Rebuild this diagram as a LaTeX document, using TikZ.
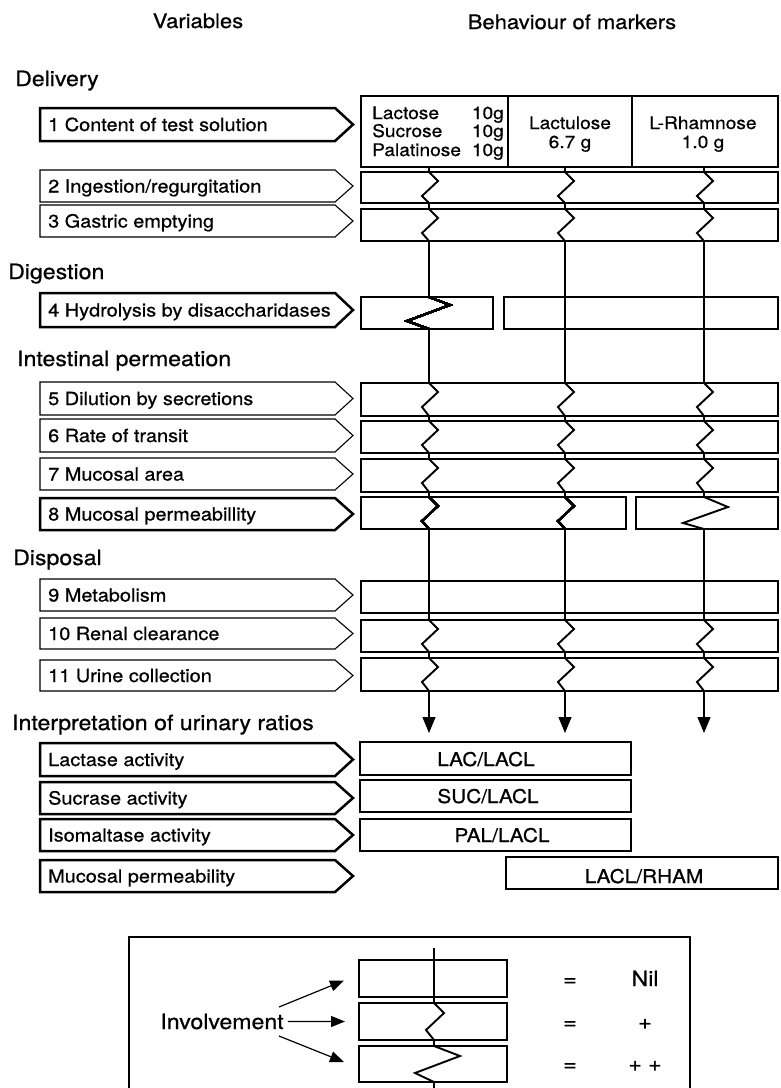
\documentclass[tikz,border=0pt]{standalone}
\usepackage{fontspec}
\setmainfont{TeX Gyre Heros}[FakeStretch=1.1,FakeBold=0.7]
\usetikzlibrary{arrows.meta,calc}
\newcommand\RB[5]{\node[rbox, minimum width={(#4-#2)*1pt}, minimum height={(#5-#3)*1pt}] (#1) at (#2,#3) {};}
\newcommand\LA[5]{%
  \node[lshape, minimum height={(#3-#2)*1pt}] (#1) at (40,#2) {};
  \draw[#5] (#1.north west) -- (#1.north east) -- ([xshift=18pt]#1.east) -- (#1.south east) -- (#1.south west) -- cycle;
  \node[lbl] (#1t) at ([xshift=8pt,yshift=-6.5pt]#1.west) {#4};}
\newcommand\ZS[2]{\draw[zz] (#1.north -| #2) -- ++(9,9) -- ++(-16,15) -- (#1.south -| #2);}
\newcommand\ZN[2]{\draw[vln] (#1.north -| #2) -- (#1.south -| #2);}
\begin{document}
\begin{tikzpicture}[x=1pt,y=-1pt,
  rbox/.style={draw, line width=1.1pt, inner sep=0pt, outer sep=0pt, anchor=north west},
  lshape/.style={inner sep=0pt, outer sep=0pt, anchor=north west, minimum width=295pt},
  thn/.style={line width=1.1pt, line join=miter},
  thk/.style={line width=2.5pt, line join=miter},
  zz/.style={line width=1.9pt, line join=miter},
  vln/.style={line width=1.2pt},
  arr/.style={line width=1.2pt, -{Triangle[length=16pt,width=13pt]}},
  larr/.style={line width=1.2pt, -{Triangle[length=14pt,width=11pt]}},
  lbl/.style={font=\fontsize{18.1}{20}\selectfont, anchor=base west, inner sep=0pt},
  sec/.style={font=\fontsize{21}{24}\selectfont, anchor=base west, inner sep=0pt},
  hdr/.style={font=\fontsize{20}{24}\selectfont, anchor=base, inner sep=0pt},
  cell/.style={font=\fontsize{17.4}{20}\selectfont, inner sep=0pt},
  rat/.style={font=\fontsize{18.9}{22}\selectfont, anchor=base, inner sep=0pt},
  leg/.style={font=\fontsize{21}{24}\selectfont, anchor=base, inner sep=0pt}]
\useasboundingbox (0,0) rectangle (780,1088);

% headers
\node[hdr] (hv) at (198,28) {Variables};
\node[hdr] (hb) at (572,29) {Behaviour of markers};
% section labels
\node[sec] (s1) at (15,86) {Delivery};
\node[sec] (s2) at (8,279) {Digestion};
\node[sec] (s3) at (17,366) {Intestinal permeation};
\node[sec] (s4) at (13,565) {Disposal};
\node[sec] (s5) at (12,730) {Interpretation of urinary ratios};

% left arrows
\LA{L1}{108}{141}{1 Content of test solution}{thk}
\LA{L2}{170}{202}{2 Ingestion/regurgitation}{thn}
\LA{L3}{205}{237}{3 Gastric emptying}{thn}
\LA{L4}{293}{327}{4 Hydrolysis by disaccharidases}{thk}
\LA{L5}{382}{415}{5 Dilution by secretions}{thn}
\LA{L6}{419}{452}{6 Rate of transit}{thn}
\LA{L7}{458}{490}{7 Mucosal area}{thn}
\LA{L8}{498}{530}{8 Mucosal permeabillity}{thk}
\LA{L9}{579}{611}{9 Metabolism}{thn}
\LA{L10}{618}{649}{10 Renal clearance}{thn}
\LA{L11}{660}{691}{11 Urine collection}{thn}
\LA{P1}{743}{776}{Lactase activity}{thk}
\LA{P2}{782}{814}{Sucrase activity}{thk}
\LA{P3}{819}{851}{Isomaltase activity}{thk}
\LA{P4}{860}{892}{Mucosal permeability}{thk}

% right boxes
\RB{R1a}{361}{96}{508}{167}
\RB{R1b}{508}{96}{632}{167}
\RB{R1c}{632}{96}{778}{167}
\RB{R2}{361}{172}{778}{203}
\RB{R3}{361}{209}{778}{241}
\RB{R4a}{361}{297}{493}{329}
\RB{R4b}{504}{297}{778}{329}
\RB{R5}{361}{383}{778}{416}
\RB{R6}{361}{421}{778}{453}
\RB{R7}{361}{459}{778}{492}
\RB{R8a}{361}{497}{626}{529}
\RB{R8b}{636}{497}{778}{529}
\RB{R9}{361}{581}{778}{613}
\RB{R10}{361}{620}{778}{652}
\RB{R11}{361}{658}{778}{691}
\RB{Q1}{360}{742}{631}{775}
\RB{Q2}{360}{780}{631}{812}
\RB{Q3}{360}{819}{631}{851}
\RB{Q4}{506}{857}{778}{889}

% row 1 cell texts
\node[cell, anchor=base west] (t1) at (372,119) {Lactose};
\node[cell, anchor=base west] (t2) at (372,137) {Sucrose};
\node[cell, anchor=base west] (t3) at (372,156) {Palatinose};
\node[cell, anchor=base east] (g1) at (504,119) {10g};
\node[cell, anchor=base east] (g2) at (504,137) {10g};
\node[cell, anchor=base east] (g3) at (504,156) {10g};
\node[cell, anchor=base] (t4) at (570,129) {Lactulose};
\node[cell, anchor=base] (t5) at (570,148) {6.7 g};
\node[cell, anchor=base] (t6) at (703,129) {L-Rhamnose};
\node[cell, anchor=base] (t7) at (703,148) {1.0 g};

% ratio texts
\node[rat] (q1t) at (486,766) {LAC/LACL};
\node[rat] (q2t) at (488,803) {SUC/LACL};
\node[rat] (q3t) at (502,842) {PAL/LACL};
\node[rat] (q4t) at (644,883) {LACL/RHAM};

% marker columns
\coordinate (c1) at (429,0);
\coordinate (c2) at (565,0);
\coordinate (c3) at (704,0);
\foreach \a/\b in {R1a/R2,R2/R3,R3/R4a,R4a/R5,R5/R6,R6/R7,R7/R8a,R8a/R9,R9/R10,R10/R11}
  \foreach \c in {c1,c2,c3} \draw[vln] (\a.south -| \c) -- (\b.north -| \c);
\foreach \r in {R2,R3,R5,R6,R7,R10,R11} \foreach \c in {c1,c2,c3} \ZS{\r}{\c}
\ZS{R8a}{c1}
\ZS{R8a}{c2}
\foreach \c in {c1,c2,c3} \ZN{R9}{\c}
\ZN{R4b}{c2}
\ZN{R4b}{c3}
\draw[zz] (R4a.north -| c1) -- ++(21,8) -- ++(-43,16) -- (R4a.south -| c1);
\draw[zz] (R8b.north -| c3) -- ++(24,10) -- ++(-45,16) -- (R8b.south -| c3);
\coordinate (a1) at (429,733);
\coordinate (a2) at (565,733);
\coordinate (a3) at (704,733);
\draw[arr] (R11.south -| c1) -- (a1);
\draw[arr] (R11.south -| c2) -- (a2);
\draw[arr] (R11.south -| c3) -- (a3);

% legend
\RB{LG}{129}{937}{690}{1095}
\RB{G1}{359}{960}{507}{997}
\RB{G2}{359}{1003}{507}{1040}
\RB{G3}{359}{1046}{507}{1082}
\coordinate (gc) at (434,0);
\coordinate (gtop) at (434,948);
\coordinate (gbot) at (434,1088);
\draw[vln] (gtop) -- (G1.south -| gc);
\draw[vln] (G1.south -| gc) -- (G2.north -| gc);
\draw[zz] (G2.north -| gc) -- ++(10,10) -- ++(-18,17) -- (G2.south -| gc);
\draw[vln] (G2.south -| gc) -- (G3.north -| gc);
\draw[zz] (G3.north -| gc) -- ++(26,10) -- ++(-45,17) -- (G3.south -| gc);
\draw[vln] (G3.south -| gc) -- (gbot);
\node[leg] (inv) at (222,1029) {Involvement};
\coordinate (i1) at (279,1007);
\coordinate (i3) at (279,1036);
\draw[larr] ([xshift=4pt]inv.east) -- ([xshift=-14pt]G2.west);
\draw[larr] (i1) -- ([xshift=-15pt,yshift=-2pt]G1.west);
\draw[larr] (i3) -- ([xshift=-15pt,yshift=2pt]G3.west);
\node[leg] (e1) at (570,986) {=};
\node[leg] (e2) at (570,1029) {=};
\node[leg] (e3) at (570,1071) {=};
\node[leg] (v1) at (645,986) {Nil};
\node[leg] (v2) at (645,1029) {+};
\node[leg] (v3) at (645,1071) {+ +};
\end{tikzpicture}
\end{document}
